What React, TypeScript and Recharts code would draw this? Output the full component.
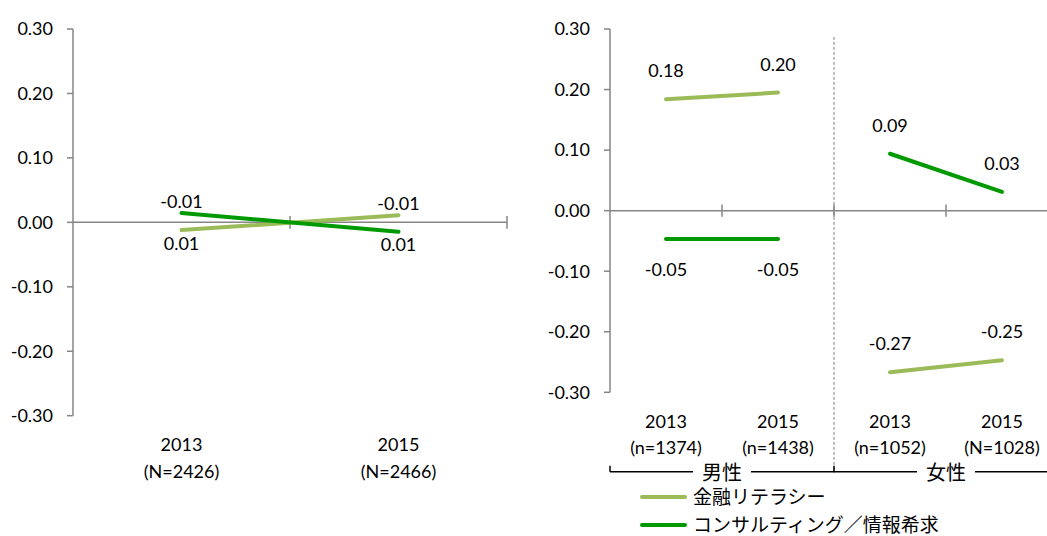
import React from 'react';
import { LineChart, Line, XAxis, YAxis, ReferenceLine, LabelList, Legend } from 'recharts';

const FONT = "Lato, 'Noto Sans CJK JP', sans-serif";
const LIGHT = '#9BBB59';
const DARK = '#009A00';
const AXIS = '#868686';

const yTicks = [-0.3, -0.2, -0.1, 0, 0.1, 0.2, 0.3];
const seriesNames = ['金融リテラシー', 'コンサルティング／情報希求'];

// left: all respondents
const totalYears = ['2013', '2015'];
const totalN = ['(N=2426)', '(N=2466)'];
const totalLiteracy = [-0.012, 0.011];
const totalConsult = [0.0145, -0.0145];
const totalLiteracyLabels = ['0.01', '-0.01'];
const totalConsultLabels = ['-0.01', '0.01'];

// right: by gender
const genderYears = ['2013', '2015', '2013', '2015'];
const genderN = ['(n=1374)', '(n=1438)', '(n=1052)', '(N=1028)'];
const groups = ['男性', '女性'];
const maleLiteracy = [0.184, 0.195];
const femaleLiteracy = [-0.267, -0.247];
const maleConsult = [-0.047, -0.047];
const femaleConsult = [0.094, 0.031];
const maleLiteracyLabels = ['0.18', '0.20'];
const femaleLiteracyLabels = ['-0.27', '-0.25'];
const maleConsultLabels = ['-0.05', '-0.05'];
const femaleConsultLabels = ['0.09', '0.03'];

const totalData = totalYears.map((_, i) => ({
  x: i + 0.5,
  lit: totalLiteracy[i],
  con: totalConsult[i],
  litLabel: totalLiteracyLabels[i],
  conLabel: totalConsultLabels[i],
}));

const genderData = genderYears.map((_, i) => {
  const male = i < 2;
  const j = i % 2;
  return {
    x: i + 0.5,
    litM: male ? maleLiteracy[j] : null,
    litF: male ? null : femaleLiteracy[j],
    conM: male ? maleConsult[j] : null,
    conF: male ? null : femaleConsult[j],
    litMLabel: male ? maleLiteracyLabels[j] : null,
    litFLabel: male ? null : femaleLiteracyLabels[j],
    conMLabel: male ? maleConsultLabels[j] : null,
    conFLabel: male ? null : femaleConsultLabels[j],
  };
});

const txt = { fontFamily: FONT, fontSize: 18, fill: '#000' };

// mode 'sign' puts the label above positive points and below negative ones
const makeLabel =
  (mode: 'above' | 'below' | 'sign', offset: number, data: any[], key: string) =>
  (props: any) => {
    const { x, y, value, index } = props;
    if (value == null || x == null || y == null) return null;
    let up = mode === 'above';
    if (mode === 'sign') up = data[index][key] >= 0;
    return (
      <text x={x} y={up ? y - offset : y + offset} textAnchor="middle" dominantBaseline="central" {...txt}>
        {value}
      </text>
    );
  };

const catTick = (years: string[], ns: string[], d1: number, d2: number) => (props: any) => {
  const { x, y, index } = props;
  return (
    <g>
      <text x={x} y={y + d1} textAnchor="middle" dominantBaseline="central" {...txt}>
        {years[index]}
      </text>
      <text x={x} y={y + d2} textAnchor="middle" dominantBaseline="central" {...txt}>
        {ns[index]}
      </text>
    </g>
  );
};

const GroupTick = (props: any) => {
  const { x, y, payload } = props;
  const v = payload.value;
  if (v % 2 === 0) {
    return <line x1={x} x2={x} y1={y} y2={y - 6} stroke="#000" strokeWidth={1.5} />;
  }
  return (
    <g>
      <rect x={x - 29} y={y - 13} width={58} height={26} fill="#fff" />
      <text x={x} y={y} textAnchor="middle" dominantBaseline="central" {...txt} fontSize={20}>
        {groups[(v - 1) / 2]}
      </text>
    </g>
  );
};

const LegendBox = (props: any) => {
  const items = (props.payload || [])
    .filter((p: any) => p.type !== 'none')
    .sort((a: any, b: any) => seriesNames.indexOf(a.value) - seriesNames.indexOf(b.value));
  return (
    <div style={{ fontFamily: FONT }}>
      {items.map((p: any) => (
        <div key={p.value} style={{ display: 'flex', alignItems: 'center', height: 28 }}>
          <span style={{ display: 'inline-block', width: 47, height: 4, background: p.color, borderRadius: 2 }} />
          <span style={{ marginLeft: 6, fontSize: 19, lineHeight: '28px', color: '#000' }}>{p.value}</span>
        </div>
      ))}
    </div>
  );
};

const yAxisProps = {
  type: 'number' as const,
  domain: [-0.3, 0.3],
  ticks: yTicks,
  tickFormatter: (v: number) => v.toFixed(2),
  axisLine: { stroke: AXIS, strokeWidth: 1.5 },
  tickLine: { stroke: AXIS, strokeWidth: 1.5 },
  tickSize: 6,
  tickMargin: 14,
  tick: txt,
  interval: 0 as const,
};

const zeroTicks = (xs: number[]) =>
  xs.map((v) => (
    <ReferenceLine
      key={`zt-${v}`}
      segment={[{ x: v, y: -0.01 }, { x: v, y: 0.01 }]}
      stroke={AXIS}
      strokeWidth={1.5}
      ifOverflow="visible"
    />
  ));

export default function App() {
  return (
    <div
      style={{
        position: 'fixed',
        left: 0,
        top: 0,
        width: 1047,
        height: 536,
        overflow: 'hidden',
        background: '#fff',
        fontFamily: FONT,
      }}
    >
      <div style={{ position: 'absolute', left: 0, top: 0 }}>
        <LineChart width={540} height={536} data={totalData} margin={{ top: 29, right: 33, left: 0, bottom: 50.3 }}>
          <XAxis
            type="number"
            dataKey="x"
            domain={[0, 2]}
            ticks={[0.5, 1.5]}
            axisLine={false}
            tickLine={false}
            tickSize={0}
            tickMargin={0}
            height={70}
            interval={0}
            tick={catTick(totalYears, totalN, 28.3, 55)}
          />
          <YAxis width={73} {...yAxisProps} />
          <ReferenceLine y={0} stroke={AXIS} strokeWidth={1.5} />
          {zeroTicks([1, 2])}
          <Line
            type="linear"
            dataKey="lit"
            name={seriesNames[0]}
            stroke={LIGHT}
            strokeWidth={4}
            strokeLinecap="round"
            dot={false}
            activeDot={false}
            isAnimationActive={false}
          >
            <LabelList dataKey="litLabel" content={makeLabel('sign', 12.5, totalData, 'lit')} />
          </Line>
          <Line
            type="linear"
            dataKey="con"
            name={seriesNames[1]}
            stroke={DARK}
            strokeWidth={4}
            strokeLinecap="round"
            dot={false}
            activeDot={false}
            isAnimationActive={false}
          >
            <LabelList dataKey="conLabel" content={makeLabel('sign', 12.5, totalData, 'con')} />
          </Line>
        </LineChart>
      </div>

      <div style={{ position: 'absolute', left: 530, top: 0 }}>
        <LineChart width={540} height={536} data={genderData} margin={{ top: 29, right: 12, left: 0, bottom: 0 }}>
          <XAxis
            type="number"
            dataKey="x"
            domain={[0, 4]}
            ticks={[0.5, 1.5, 2.5, 3.5]}
            axisLine={false}
            tickLine={false}
            tickSize={0}
            tickMargin={0}
            height={79.4}
            interval={0}
            tick={catTick(genderYears, genderN, 28.7, 54.4)}
          />
          <XAxis
            xAxisId="grp"
            type="number"
            dataKey="x"
            domain={[0, 4]}
            ticks={[0, 1, 2, 3, 4]}
            axisLine={{ stroke: '#000', strokeWidth: 1.5 }}
            tickLine={false}
            tickSize={0}
            tickMargin={0}
            height={7.3}
            interval={0}
            tick={GroupTick}
          />
          <YAxis width={80} {...yAxisProps} />
          <ReferenceLine y={0} stroke={AXIS} strokeWidth={1.5} />
          {zeroTicks([1, 2, 3, 4])}
          <ReferenceLine
            segment={[{ x: 2, y: 0.287 }, { x: 2, y: -0.433 }]}
            stroke="#808080"
            strokeWidth={1}
            strokeDasharray="3 2"
            ifOverflow="visible"
          />
          <Legend
            verticalAlign="bottom"
            align="left"
            content={LegendBox}
            wrapperStyle={{ top: 483, left: 110, width: 400, height: 57 }}
          />
          <Line type="linear" dataKey="litM" name={seriesNames[0]} stroke={LIGHT} strokeWidth={4} strokeLinecap="round"
            dot={false} activeDot={false} isAnimationActive={false}>
            <LabelList dataKey="litMLabel" content={makeLabel('above', 29, genderData, 'litM')} />
          </Line>
          <Line type="linear" dataKey="conM" name={seriesNames[1]} stroke={DARK} strokeWidth={4} strokeLinecap="round"
            dot={false} activeDot={false} isAnimationActive={false}>
            <LabelList dataKey="conMLabel" content={makeLabel('below', 30, genderData, 'conM')} />
          </Line>
          <Line type="linear" dataKey="litF" name={seriesNames[0] + ' 女性'} legendType="none" stroke={LIGHT} strokeWidth={4}
            strokeLinecap="round" dot={false} activeDot={false} isAnimationActive={false}>
            <LabelList dataKey="litFLabel" content={makeLabel('above', 29, genderData, 'litF')} />
          </Line>
          <Line type="linear" dataKey="conF" name={seriesNames[1] + ' 女性'} legendType="none" stroke={DARK} strokeWidth={4}
            strokeLinecap="round" dot={false} activeDot={false} isAnimationActive={false}>
            <LabelList dataKey="conFLabel" content={makeLabel('above', 29, genderData, 'conF')} />
          </Line>
        </LineChart>
      </div>
    </div>
  );
}
